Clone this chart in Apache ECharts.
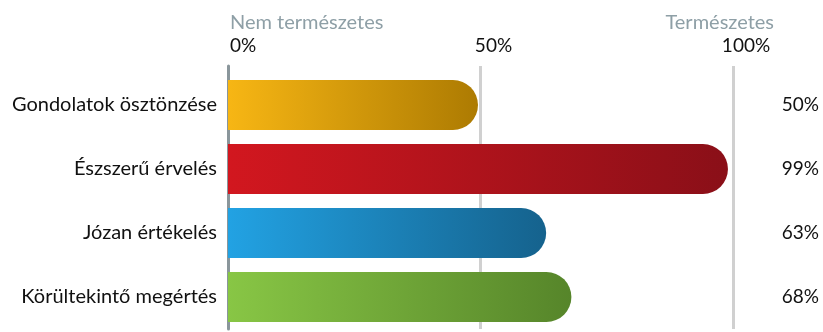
<!DOCTYPE html>
<html lang="hu">
<head>
    <meta charset="UTF-8">
    <script src="https://cdn.jsdelivr.net/npm/echarts@6.0.0/dist/echarts.min.js"></script>
    <style type="text/css">
        html, body { margin: 0; padding: 0; background: #fff; }
        #chart { width: 823px; height: 332px; }
    </style>
    <title>Természetes</title>
</head>
<body>
    <div id="chart"></div>
    <script>
        // adatok
        var categories = ['Gondolatok ösztönzése', 'Észszerű érvelés', 'Józan értékelés', 'Körültekintő megértés'];
        var values = [49.5, 99, 63, 68];
        var xTicks = [0, 50, 100];
        var leftTitle = 'Nem természetes';
        var rightTitle = 'Természetes';
        var barColors = [
            ['#f7b614', '#ad7b02'],
            ['#d2171f', '#8a0f18'],
            ['#22a2e3', '#15628d'],
            ['#88c645', '#56852a']
        ];

        var font = 'Lato';
        var chart = echarts.init(document.getElementById('chart'));

        var barData = values.map(function (v, i) {
            return {
                value: v,
                itemStyle: {
                    color: new echarts.graphic.LinearGradient(0, 0, 1, 0, [
                        { offset: 0, color: barColors[i][0] },
                        { offset: 1, color: barColors[i][1] }
                    ])
                }
            };
        });

        var option = {
            animation: false,
            title: [
                { text: leftTitle, left: 230, top: 13, padding: 0,
                  textStyle: { fontFamily: font, fontSize: 20, fontWeight: 'normal', color: '#8e9fa6' } },
                { text: rightTitle, right: 49, top: 13, padding: 0,
                  textStyle: { fontFamily: font, fontSize: 20, fontWeight: 'normal', color: '#8e9fa6' } }
            ],
            grid: [
                { left: 228, right: 90, top: 73, bottom: 3 },
                { left: 228, right: 90, top: 66, height: 8 }
            ],
            xAxis: [
                {
                    type: 'value', gridIndex: 0, min: xTicks[0], max: xTicks[xTicks.length - 1], interval: 50,
                    position: 'top',
                    axisLine: { show: false }, axisTick: { show: false }, axisLabel: { show: false },
                    splitLine: { show: true, showMinLine: false, lineStyle: { color: '#d0d0d0', width: 3 } }
                },
                {
                    type: 'value', gridIndex: 1, min: xTicks[0], max: xTicks[xTicks.length - 1], interval: 50,
                    position: 'top',
                    axisLine: { show: false }, axisTick: { show: false },
                    splitLine: { show: true, showMinLine: false, lineStyle: { color: '#d0d0d0', width: 3 } },
                    axisLabel: {
                        show: true, margin: 11, align: 'center', alignMinLabel: 'left',
                        fontFamily: font, fontSize: 19, color: '#111',
                        formatter: function (v) { return v === 0 ? '{a|0%}' : '{b|' + v + '%}'; },
                        rich: {
                            a: { fontFamily: font, fontSize: 19, color: '#111', padding: [0, 0, 0, 2] },
                            b: { fontFamily: font, fontSize: 19, color: '#111', padding: [0, 0, 0, 26] }
                        }
                    }
                }
            ],
            yAxis: [
                {
                    type: 'category', gridIndex: 0, data: categories, inverse: true,
                    axisLine: { show: true, lineStyle: { color: '#8a969b', width: 3 } },
                    axisTick: { show: false },
                    axisLabel: { margin: 11, fontFamily: font, fontSize: 20, color: '#111' }
                },
                {
                    type: 'category', gridIndex: 0, position: 'right', inverse: true,
                    data: values.map(function (v) { return Math.round(v) + '%'; }),
                    axisLine: { show: false }, axisTick: { show: false },
                    axisLabel: { margin: 86, align: 'right', fontFamily: font, fontSize: 19, color: '#111' }
                },
                {
                    type: 'category', gridIndex: 1, data: [''],
                    axisLine: { show: true, lineStyle: { color: '#8a969b', width: 3 } },
                    axisTick: { show: false }, axisLabel: { show: false }
                }
            ],
            series: [
                {
                    type: 'bar', xAxisIndex: 0, yAxisIndex: 0,
                    data: barData,
                    barWidth: 50,
                    itemStyle: { borderRadius: [0, 25, 25, 0] }
                }
            ]
        };

        chart.setOption(option);
    </script>
</body>
</html>
